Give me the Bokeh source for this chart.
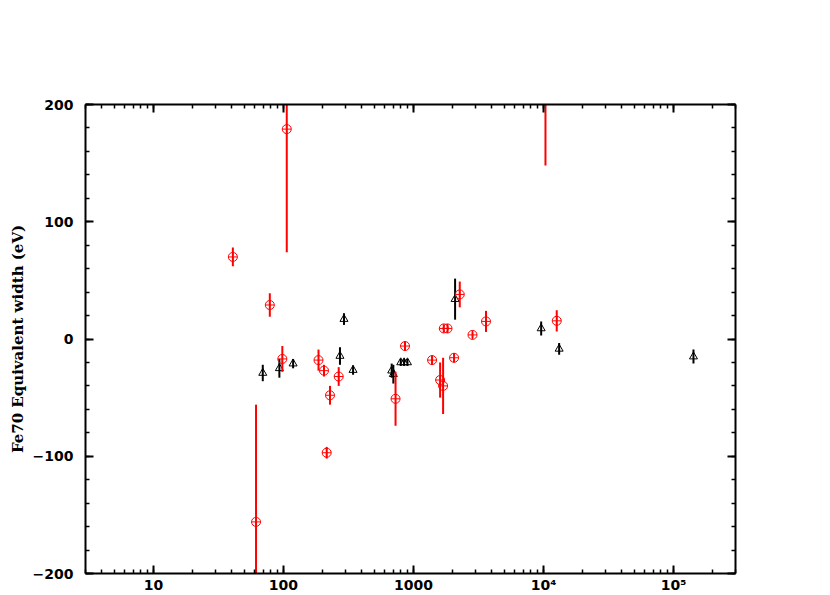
import numpy as np
from bokeh.plotting import figure
from bokeh.models import (LogAxis, LinearAxis, FixedTicker, ColumnDataSource, Range1d,
                          CustomJSTickFormatter)
from bokeh.embed import file_html
from bokeh.resources import INLINE

# red series (circle with plus)
red_x = [40.8, 78.5, 106, 61.5, 98, 186, 205, 228, 215, 266, 728, 861, 1390, 1603, 1690,
         1711, 1828, 2052, 2270, 2845, 3614, 12650, 10360]
red_y = [70, 29, 179, -156, -17, -18, -27, -48, -97, -32, -51, -6, -18, -35, -40,
         9, 9, -16, 38, 3.5, 15, 15.5, 240]
red_err = [8, 10, 105, 100, 11, 9, 5, 8, 5, 8, 23, 4, 4, 15, 24,
           3, 3, 4, 11, 3, 9, 9, 92]

# black series (open triangles)
black_x = [69.3, 93, 118.6, 272, 292, 343, 680, 700, 798, 847, 899, 2090, 9600, 13200, 142500]
black_y = [-29, -25, -21, -14.5, 17, -26.5, -27, -30, -20, -20, -20, 34, 9, -8.4, -15]
black_err = [7, 8, 4, 7.5, 5, 4, 6, 8, 3, 3, 3, 17.5, 6, 5, 6]

x_major = [10, 100, 1000, 10000, 100000]
x_labels = {10: "10", 100: "100", 1000: "1000", 10000: "10\u2074", 100000: "10\u2075"}
y_major = [-200, -100, 0, 100, 200]
y_labels = {-200: "\u2212200", -100: "\u2212100", 0: "0", 100: "100", 200: "200"}

x_minor = [k * 10 ** e for e in range(0, 6) for k in range(1, 10)]
y_minor = list(range(-200, 201, 20))

p = figure(width=830, height=595, x_axis_type="log",
           x_range=Range1d(3, 3e5), y_range=Range1d(-200, 200),
           output_backend="svg", toolbar_location=None,
           min_border_left=85, min_border_right=95, min_border_top=104, min_border_bottom=5)
p.grid.visible = False
p.outline_line_color = None
p.background_fill_color = "white"
p.border_fill_color = "white"

xt = FixedTicker(ticks=x_major, minor_ticks=x_minor)
yt = FixedTicker(ticks=y_major, minor_ticks=y_minor)
blank = CustomJSTickFormatter(code="return ''")

def style(ax):
    ax.axis_line_width = 2
    ax.axis_line_color = "black"
    ax.major_tick_in = 8
    ax.major_tick_out = 0
    ax.minor_tick_in = 4
    ax.minor_tick_out = 0
    ax.major_tick_line_width = 2
    ax.minor_tick_line_width = 1.5
    ax.major_label_text_font = "DejaVu Sans"
    ax.major_label_text_font_style = "bold"
    ax.major_label_text_font_size = "14px"
    ax.major_label_text_color = "black"

xa = p.xaxis[0]
xa.ticker = xt
xa.major_label_overrides = x_labels
xa.major_label_standoff = 3
style(xa)

ya = p.yaxis[0]
ya.ticker = yt
ya.major_label_overrides = y_labels
ya.major_label_standoff = 12
style(ya)
ya.axis_label = "Fe70 Equivalent width (eV)"
ya.axis_label_text_font = "DejaVu Serif"
ya.axis_label_text_font_style = "bold"
ya.axis_label_text_font_size = "15px"
ya.axis_label_standoff = 3
ya.axis_label_text_color = "black"

top = LogAxis(ticker=xt, formatter=blank)
style(top)
p.add_layout(top, "above")
right = LinearAxis(ticker=yt, formatter=blank)
style(right)
p.add_layout(right, "right")

# error bars + markers
def add_series(xs, ys, es, color, marker, size):
    xs = np.array(xs, float); ys = np.array(ys, float); es = np.array(es, float)
    src = ColumnDataSource(dict(x=xs, y=ys, lo=ys - es, hi=ys + es))
    p.segment(x0="x", y0="lo", x1="x", y1="hi", source=src, line_color=color, line_width=2)
    p.scatter(x="x", y="y", source=src, marker=marker, size=size,
              fill_color=None, line_color=color, line_width=1)

add_series(black_x, black_y, black_err, "black", "triangle", 8)
add_series(red_x, red_y, red_err, "red", "circle_cross", 9)

open("out.html", "w").write(file_html(p, INLINE))
